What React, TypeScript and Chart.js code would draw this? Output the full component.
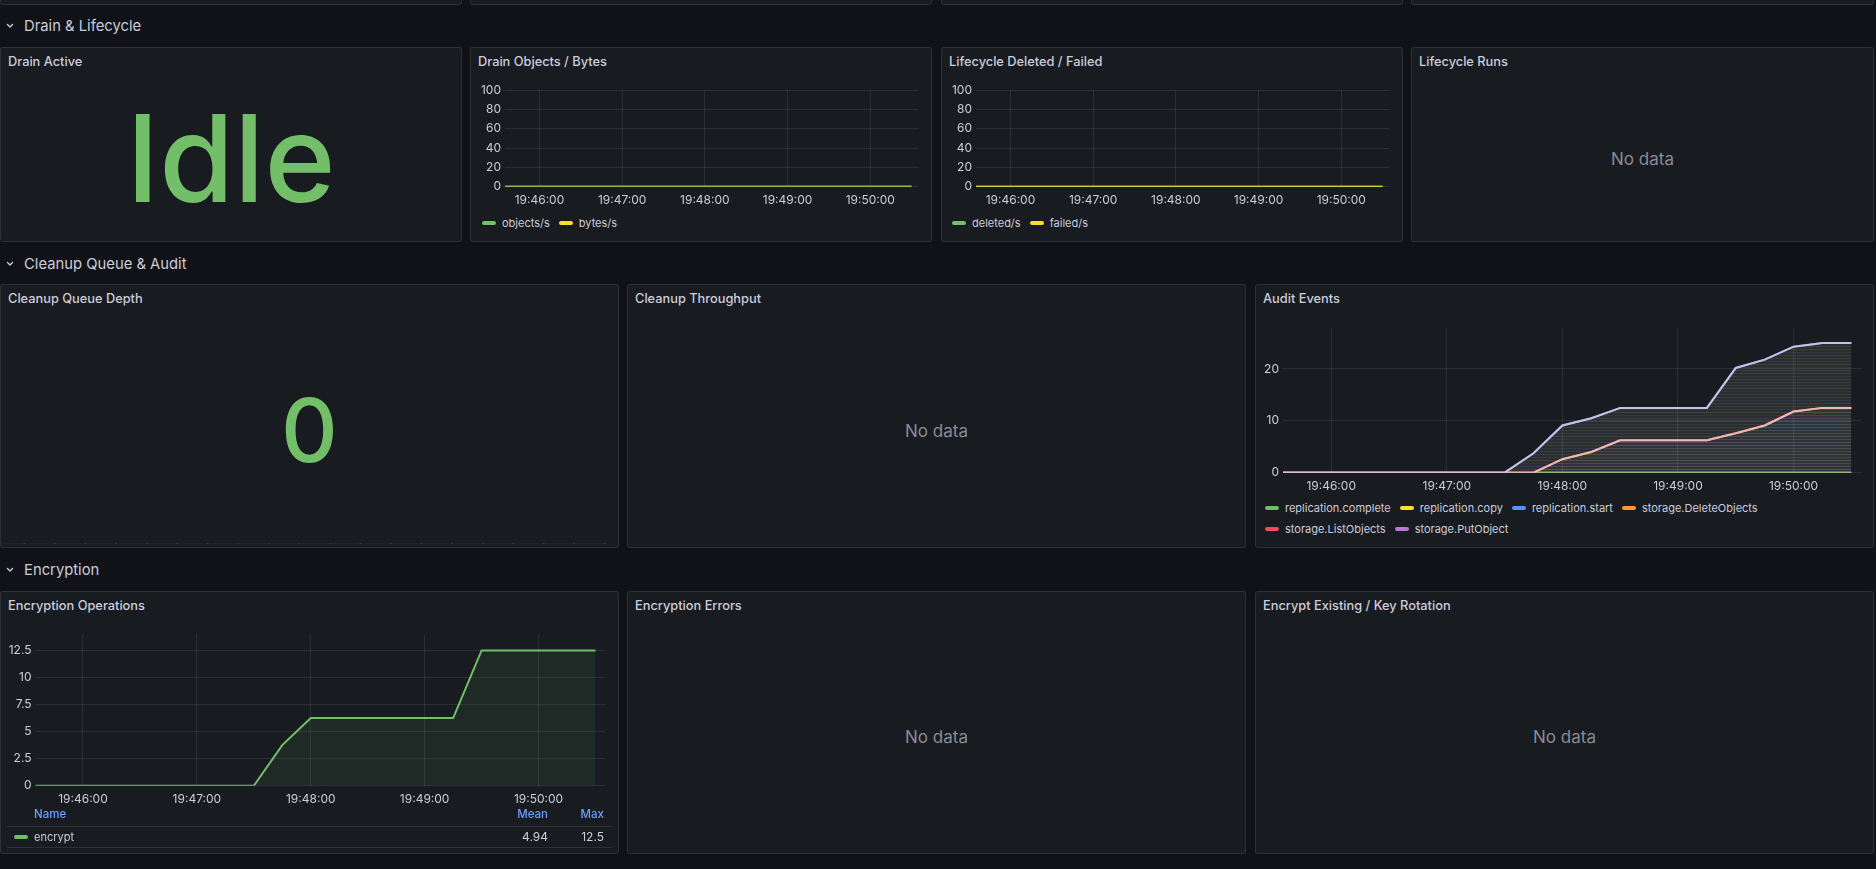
import React, { useEffect, useRef } from "react";
import { Chart, registerables } from "chart.js";

Chart.register(...registerables);

// ---------------- data ----------------
const TIMES = [
  "19:45:30", "19:45:45", "19:46:00", "19:46:15", "19:46:30", "19:46:45", "19:47:00",
  "19:47:15", "19:47:30", "19:47:45", "19:48:00", "19:48:15", "19:48:30", "19:48:45",
  "19:49:00", "19:49:15", "19:49:30", "19:49:45", "19:50:00", "19:50:15", "19:50:30",
];
const X_RANGE = ["19:45:35", "19:50:35"];
const X_TICK_LABELS = ["19:46:00", "19:47:00", "19:48:00", "19:49:00", "19:50:00"];

const DRAIN_ACTIVE_STATE = "Idle";

const DRAIN_Y_TICKS = [0, 20, 40, 60, 80, 100];
const DRAIN_OBJECTS_PER_S = [0, 0, 0, 0, 0, 0, 0, 0, 0, 0, 0, 0, 0, 0, 0, 0, 0, 0, 0, 0, 0];
const DRAIN_BYTES_PER_S = [0, 0, 0, 0, 0, 0, 0, 0, 0, 0, 0, 0, 0, 0, 0, 0, 0, 0, 0, 0, 0];

const LIFECYCLE_Y_TICKS = [0, 20, 40, 60, 80, 100];
const LIFECYCLE_DELETED_PER_S = [0, 0, 0, 0, 0, 0, 0, 0, 0, 0, 0, 0, 0, 0, 0, 0, 0, 0, 0, 0, 0];
const LIFECYCLE_FAILED_PER_S = [0, 0, 0, 0, 0, 0, 0, 0, 0, 0, 0, 0, 0, 0, 0, 0, 0, 0, 0, 0, 0];

const CLEANUP_QUEUE_DEPTH = [0, 0, 0, 0, 0, 0, 0, 0, 0, 0, 0, 0, 0, 0, 0, 0, 0, 0, 0, 0, 0];

const AUDIT_Y_TICKS = [0, 10, 20];
const AUDIT_REPLICATION_COMPLETE = [0, 0, 0, 0, 0, 0, 0, 0, 0, 0, 0, 0, 0, 0, 0, 0, 0, 0, 0, 0, 0];
const AUDIT_REPLICATION_COPY = [0, 0, 0, 0, 0, 0, 0, 0, 0, 0, 0, 0, 0, 0, 0, 0, 0, 0, 0, 0, 0];
const AUDIT_REPLICATION_START = [0, 0, 0, 0, 0, 0, 0, 0, 0, 3.75, 9.1, 10.5, 12.5, 12.5, 12.5, 12.5, 20.2, 21.8, 24.3, 25, 25];
const AUDIT_STORAGE_DELETE_OBJECTS = [0, 0, 0, 0, 0, 0, 0, 0, 0, 0, 2.6, 4, 6.25, 6.25, 6.25, 6.25, 7.6, 9.1, 11.8, 12.5, 12.5];
const AUDIT_STORAGE_LIST_OBJECTS = [0, 0, 0, 0, 0, 0, 0, 0, 0, 0, 2.6, 4, 6.25, 6.25, 6.25, 6.25, 7.6, 9.1, 11.8, 12.5, 12.5];
const AUDIT_STORAGE_PUT_OBJECT = [0, 0, 0, 0, 0, 0, 0, 0, 0, 3.75, 9.1, 10.5, 12.5, 12.5, 12.5, 12.5, 20.2, 21.8, 24.3, 25, 25];

const ENCRYPT_Y_TICKS = [0, 2.5, 5, 7.5, 10, 12.5];
const ENCRYPT_OPS = [0, 0, 0, 0, 0, 0, 0, 0, 0, 3.75, 6.25, 6.25, 6.25, 6.25, 6.25, 6.25, 12.5, 12.5, 12.5, 12.5, 12.5];

// ---------------- style ----------------
const FONT = "Inter, 'Noto Sans', sans-serif";
const BG = "#111217";
const PANEL_BG = "#181b1f";
const BORDER = "rgba(204,204,220,0.12)";
const TEXT = "#ccccdc";
const TEXT_DIM = "rgba(204,204,220,0.65)";
const GRID = "rgba(240,250,255,0.09)";
const LINK = "#6e9fff";
const GREEN = "#73bf69";
const YELLOW = "#fade2a";
const BLUE = "#5794f2";
const ORANGE = "#ff9830";
const RED = "#f2495c";
const PURPLE = "#b877d9";

const TITLE_SIZE = 12.8;
const LEGEND_SIZE = 11;

Chart.defaults.font.family = FONT;

const toSec = (t: string) => {
  const [h, m, s] = t.split(":").map(Number);
  return h * 3600 + m * 60 + s;
};

function stripePattern(ctx: CanvasRenderingContext2D, base: string, stripes: string[]) {
  const off = document.createElement("canvas");
  const step = 3;
  off.width = 4;
  off.height = stripes.length * step;
  const c = off.getContext("2d")!;
  c.fillStyle = base;
  c.fillRect(0, 0, off.width, off.height);
  stripes.forEach((col, i) => {
    c.fillStyle = col;
    c.fillRect(0, i * step, off.width, 1);
  });
  return ctx.createPattern(off, "repeat");
}

type Series = {
  label: string;
  data: number[];
  color: string;
  width?: number;
  fill?: any;
  order?: number;
};

type TSProps = {
  left: number;
  top: number;
  width: number;
  height: number;
  series: Series[];
  yTicks: number[];
  yMax: number;
  yAxisWidth: number;
  padTop: number;
  padRight: number;
  xAxisHeight: number;
};

function TimeSeries(p: TSProps) {
  const ref = useRef<HTMLCanvasElement>(null);
  useEffect(() => {
    const chart = new Chart(ref.current!, {
      type: "line",
      data: {
        datasets: p.series.map((s) => ({
          label: s.label,
          data: TIMES.map((t, i) => ({ x: toSec(t), y: s.data[i] })),
          borderColor: s.color,
          borderWidth: s.width ?? 2,
          pointRadius: 0,
          tension: 0,
          fill: s.fill ? "origin" : false,
          backgroundColor: s.fill ?? "transparent",
          order: s.order ?? 0,
        })),
      },
      options: {
        responsive: false,
        maintainAspectRatio: false,
        animation: false,
        events: [],
        layout: { padding: { top: p.padTop, right: p.padRight, left: 0, bottom: 0 } },
        plugins: { legend: { display: false }, tooltip: { enabled: false } },
        scales: {
          x: {
            type: "linear",
            min: toSec(X_RANGE[0]),
            max: toSec(X_RANGE[1]),
            afterBuildTicks: (s: any) => {
              s.ticks = X_TICK_LABELS.map((l) => ({ value: toSec(l) }));
            },
            afterFit: (s: any) => {
              s.height = p.xAxisHeight;
            },
            ticks: {
              callback: (_v: any, i: number) => X_TICK_LABELS[i],
              color: TEXT,
              font: { family: FONT, size: 12 },
              padding: 6,
              maxRotation: 0,
              autoSkip: false,
            },
            grid: { color: GRID, drawTicks: false, lineWidth: 1 },
            border: { display: false },
          },
          y: {
            type: "linear",
            min: 0,
            max: p.yMax,
            afterBuildTicks: (s: any) => {
              s.ticks = p.yTicks.map((v) => ({ value: v }));
            },
            afterFit: (s: any) => {
              s.width = p.yAxisWidth;
            },
            ticks: {
              callback: (v: any) => String(v),
              color: TEXT,
              font: { family: FONT, size: 12 },
              padding: 4,
            },
            grid: { color: GRID, drawTicks: false, lineWidth: 1 },
            border: { display: false },
          },
        },
      } as any,
    });
    return () => chart.destroy();
  }, []);
  return (
    <canvas
      ref={ref}
      width={p.width}
      height={p.height}
      style={{ position: "absolute", left: p.left, top: p.top, width: p.width, height: p.height, display: "block" }}
    />
  );
}

function Sparkline(props: { left: number; top: number; width: number; height: number; data: number[] }) {
  const ref = useRef<HTMLCanvasElement>(null);
  useEffect(() => {
    const chart = new Chart(ref.current!, {
      type: "line",
      data: {
        datasets: [
          {
            data: TIMES.map((t, i) => ({ x: toSec(t), y: props.data[i] })),
            borderColor: "rgba(115,191,105,0.12)",
            borderWidth: 1,
            pointRadius: 1.1,
            pointBackgroundColor: "rgba(204,204,220,0.16)",
            pointBorderWidth: 0,
            fill: false,
          },
        ],
      },
      options: {
        responsive: false,
        maintainAspectRatio: false,
        animation: false,
        events: [],
        layout: { padding: 0 },
        plugins: { legend: { display: false }, tooltip: { enabled: false } },
        scales: {
          x: { type: "linear", display: false, min: toSec(X_RANGE[0]), max: toSec(X_RANGE[1]) },
          y: { type: "linear", display: false, min: 0, max: 1 },
        },
      } as any,
    });
    return () => chart.destroy();
  }, []);
  return (
    <canvas
      ref={ref}
      width={props.width}
      height={props.height}
      style={{ position: "absolute", left: props.left, top: props.top, width: props.width, height: props.height }}
    />
  );
}

function Panel(props: { x: number; y: number; w: number; h: number; title?: string; children?: any }) {
  return (
    <div
      style={{
        position: "absolute",
        left: props.x,
        top: props.y,
        width: props.w,
        height: props.h,
        background: PANEL_BG,
        borderRadius: 3,
        boxShadow: `inset 0 0 0 1px ${BORDER}`,
      }}
    >
      {props.title && (
        <div
          style={{
            position: "absolute",
            left: 8,
            top: 5,
            lineHeight: "20px",
            fontSize: TITLE_SIZE,
            fontWeight: 500,
            color: TEXT,
            whiteSpace: "nowrap",
          }}
        >
          {props.title}
        </div>
      )}
      {props.children}
    </div>
  );
}

function SectionHeader(props: { title: string; cy: number }) {
  return (
    <div style={{ position: "absolute", left: 0, top: props.cy - 12, height: 24, width: 600 }}>
      <svg width={20} height={24} style={{ position: "absolute", left: 0, top: 0 }}>
        <polyline points="7.5,10.5 10,13 12.5,10.5" fill="none" stroke={TEXT} strokeWidth={1.4} strokeLinecap="round" strokeLinejoin="round" />
      </svg>
      <div style={{ position: "absolute", left: 24, top: 0, lineHeight: "24px", fontSize: 14.8, color: TEXT, whiteSpace: "nowrap" }}>
        {props.title}
      </div>
    </div>
  );
}

function NoData(props: { cy: number }) {
  return (
    <div
      style={{
        position: "absolute",
        left: 0,
        right: 0,
        top: props.cy - 12,
        lineHeight: "24px",
        textAlign: "center",
        fontSize: 17,
        color: TEXT_DIM,
      }}
    >
      No data
    </div>
  );
}

function StatValue(props: { text: string; size: number; baseline: number }) {
  return (
    <div
      style={{
        position: "absolute",
        left: 0,
        right: 0,
        top: props.baseline - 0.864 * props.size,
        lineHeight: 1,
        fontSize: props.size,
        fontWeight: 500,
        textAlign: "center",
        color: GREEN,
        whiteSpace: "nowrap",
      }}
    >
      {props.text}
    </div>
  );
}

function Swatch(props: { color: string }) {
  return (
    <span
      style={{
        display: "inline-block",
        width: 14,
        height: 4,
        borderRadius: 2,
        background: props.color,
        marginRight: 6,
        verticalAlign: "middle",
      }}
    />
  );
}

function Legend(props: { left: number; cy: number; width: number; items: { label: string; color: string }[] }) {
  return (
    <div
      style={{
        position: "absolute",
        left: props.left,
        top: props.cy - 10.5,
        width: props.width,
        display: "flex",
        flexWrap: "wrap",
        fontSize: LEGEND_SIZE,
        color: TEXT,
      }}
    >
      {props.items.map((it) => (
        <div key={it.label} style={{ display: "flex", alignItems: "center", height: 21, marginRight: 9, whiteSpace: "nowrap" }}>
          <Swatch color={it.color} />
          <span>{it.label}</span>
        </div>
      ))}
    </div>
  );
}

const COL4 = [
  { x: 0, w: 462 },
  { x: 470, w: 462 },
  { x: 941, w: 462 },
  { x: 1411, w: 463 },
];
const COL3 = [
  { x: 0, w: 619 },
  { x: 627, w: 619 },
  { x: 1255, w: 619 },
];
const ROW1 = { y: 47, h: 195 };
const ROW2 = { y: 284, h: 264 };
const ROW3 = { y: 591, h: 263 };

export default function App() {
  const encMean = ENCRYPT_OPS.reduce((a, b) => a + b, 0) / ENCRYPT_OPS.length;
  const encMax = Math.max(...ENCRYPT_OPS);

  const auditUpperFill = (c: any) =>
    stripePattern(c.chart.ctx, "rgba(205,215,205,0.1)", [
      "rgba(115,191,105,0.18)", "rgba(242,73,92,0.14)", "rgba(184,119,217,0.16)", "rgba(250,222,42,0.11)",
      "rgba(87,148,242,0.14)", "rgba(255,152,48,0.12)", "rgba(115,191,105,0.14)", "rgba(184,119,217,0.12)",
    ]);
  const auditLowerFill = (c: any) =>
    stripePattern(c.chart.ctx, "rgba(200,200,200,0.04)", [
      "rgba(242,73,92,0.15)", "rgba(115,191,105,0.13)", "rgba(255,152,48,0.13)", "rgba(87,148,242,0.09)",
      "rgba(250,222,42,0.09)", "rgba(242,73,92,0.1)", "rgba(184,119,217,0.13)",
    ]);

  return (
    <div
      style={{
        position: "fixed",
        left: 0,
        top: 0,
        width: 1876,
        height: 869,
        background: BG,
        overflow: "hidden",
        fontFamily: FONT,
        color: TEXT,
      }}
    >
      {/* partially visible panels of the previous row */}
      {COL4.map((c, i) => (
        <Panel key={"prev" + i} x={c.x} y={-20} w={c.w} h={25} />
      ))}

      <SectionHeader title="Drain & Lifecycle" cy={26} />

      <Panel x={COL4[0].x} y={ROW1.y} w={COL4[0].w} h={ROW1.h} title="Drain Active">
        <StatValue text={DRAIN_ACTIVE_STATE} size={121} baseline={156} />
      </Panel>

      <Panel x={COL4[1].x} y={ROW1.y} w={COL4[1].w} h={ROW1.h} title="Drain Objects / Bytes">
        <TimeSeries
          left={8}
          top={32}
          width={446}
          height={131}
          yTicks={DRAIN_Y_TICKS}
          yMax={100}
          yAxisWidth={27}
          padTop={11}
          padRight={5.5}
          xAxisHeight={23.3}
          series={[
            { label: "objects/s", data: DRAIN_OBJECTS_PER_S, color: GREEN, order: 0 },
            { label: "bytes/s", data: DRAIN_BYTES_PER_S, color: YELLOW, order: 1 },
          ]}
        />
        <Legend
          left={12}
          cy={176.3}
          width={440}
          items={[
            { label: "objects/s", color: GREEN },
            { label: "bytes/s", color: YELLOW },
          ]}
        />
      </Panel>

      <Panel x={COL4[2].x} y={ROW1.y} w={COL4[2].w} h={ROW1.h} title="Lifecycle Deleted / Failed">
        <TimeSeries
          left={8}
          top={32}
          width={446}
          height={131}
          yTicks={LIFECYCLE_Y_TICKS}
          yMax={100}
          yAxisWidth={27}
          padTop={11}
          padRight={5.5}
          xAxisHeight={23.3}
          series={[
            { label: "deleted/s", data: LIFECYCLE_DELETED_PER_S, color: GREEN, order: 1 },
            { label: "failed/s", data: LIFECYCLE_FAILED_PER_S, color: YELLOW, order: 0 },
          ]}
        />
        <Legend
          left={11}
          cy={176.3}
          width={440}
          items={[
            { label: "deleted/s", color: GREEN },
            { label: "failed/s", color: YELLOW },
          ]}
        />
      </Panel>

      <Panel x={COL4[3].x} y={ROW1.y} w={COL4[3].w} h={ROW1.h} title="Lifecycle Runs">
        <NoData cy={112} />
      </Panel>

      <SectionHeader title="Cleanup Queue & Audit" cy={264} />

      <Panel x={COL3[0].x} y={ROW2.y} w={COL3[0].w} h={ROW2.h} title="Cleanup Queue Depth">
        <StatValue text={String(CLEANUP_QUEUE_DEPTH[CLEANUP_QUEUE_DEPTH.length - 1])} size={88} baseline={178} />
        <Sparkline left={0} top={ROW2.h - 48} width={COL3[0].w} height={48} data={CLEANUP_QUEUE_DEPTH} />
      </Panel>

      <Panel x={COL3[1].x} y={ROW2.y} w={COL3[1].w} h={ROW2.h} title="Cleanup Throughput">
        <NoData cy={146.7} />
      </Panel>

      <Panel x={COL3[2].x} y={ROW2.y} w={COL3[2].w} h={ROW2.h} title="Audit Events">
        <TimeSeries
          left={8}
          top={32}
          width={603}
          height={180}
          yTicks={AUDIT_Y_TICKS}
          yMax={28}
          yAxisWidth={20}
          padTop={11.5}
          padRight={5}
          xAxisHeight={23.3}
          series={[
            { label: "replication.complete", data: AUDIT_REPLICATION_COMPLETE, color: GREEN, order: 4 },
            { label: "replication.copy", data: AUDIT_REPLICATION_COPY, color: YELLOW, order: 5 },
            { label: "replication.start", data: AUDIT_REPLICATION_START, color: "rgba(87,148,242,0.9)", order: 3 },
            { label: "storage.DeleteObjects", data: AUDIT_STORAGE_DELETE_OBJECTS, color: "rgba(255,152,48,0.9)", order: 2, fill: auditLowerFill },
            { label: "storage.ListObjects", data: AUDIT_STORAGE_LIST_OBJECTS, color: "rgba(245,185,200,0.9)", order: 1 },
            { label: "storage.PutObject", data: AUDIT_STORAGE_PUT_OBJECT, color: "rgba(210,200,228,0.9)", order: 0, fill: auditUpperFill },
          ]}
        />
        <Legend
          left={10}
          cy={224.3}
          width={600}
          items={[
            { label: "replication.complete", color: GREEN },
            { label: "replication.copy", color: YELLOW },
            { label: "replication.start", color: BLUE },
            { label: "storage.DeleteObjects", color: ORANGE },
            { label: "storage.ListObjects", color: RED },
            { label: "storage.PutObject", color: PURPLE },
          ]}
        />
      </Panel>

      <SectionHeader title="Encryption" cy={570} />

      <Panel x={COL3[0].x} y={ROW3.y} w={COL3[0].w} h={ROW3.h} title="Encryption Operations">
        <TimeSeries
          left={8}
          top={32}
          width={603}
          height={186}
          yTicks={ENCRYPT_Y_TICKS}
          yMax={14}
          yAxisWidth={27.5}
          padTop={11}
          padRight={6}
          xAxisHeight={23.3}
          series={[{ label: "encrypt", data: ENCRYPT_OPS, color: GREEN, fill: "rgba(115,191,105,0.09)" }]}
        />
        {/* legend table */}
        <div style={{ position: "absolute", left: 7, width: 605, top: 213, fontSize: 11.5 }}>
          <div style={{ position: "relative", height: 21.5, borderBottom: `1px solid ${BORDER}` }}>
            <span style={{ position: "absolute", left: 27, top: 0, lineHeight: "21px", color: LINK, fontWeight: 500 }}>Name</span>
            <span style={{ position: "absolute", right: 64, top: 0, lineHeight: "21px", color: LINK, fontWeight: 500 }}>Mean</span>
            <span style={{ position: "absolute", right: 8, top: 0, lineHeight: "21px", color: LINK, fontWeight: 500 }}>Max</span>
          </div>
          <div style={{ position: "relative", height: 20, borderBottom: `1px solid ${BORDER}` }}>
            <span
              style={{
                position: "absolute",
                left: 7,
                top: 8,
                width: 14,
                height: 4,
                borderRadius: 2,
                background: GREEN,
              }}
            />
            <span style={{ position: "absolute", left: 27, top: 0, lineHeight: "20px", color: TEXT, fontSize: 11 }}>encrypt</span>
            <span style={{ position: "absolute", right: 64, top: 0, lineHeight: "20px", color: TEXT, fontSize: 12 }}>{encMean.toFixed(2)}</span>
            <span style={{ position: "absolute", right: 8, top: 0, lineHeight: "20px", color: TEXT, fontSize: 12 }}>{String(encMax)}</span>
          </div>
        </div>
      </Panel>

      <Panel x={COL3[1].x} y={ROW3.y} w={COL3[1].w} h={ROW3.h} title="Encryption Errors">
        <NoData cy={146} />
      </Panel>

      <Panel x={COL3[2].x} y={ROW3.y} w={COL3[2].w} h={ROW3.h} title="Encrypt Existing / Key Rotation">
        <NoData cy={146} />
      </Panel>
    </div>
  );
}
